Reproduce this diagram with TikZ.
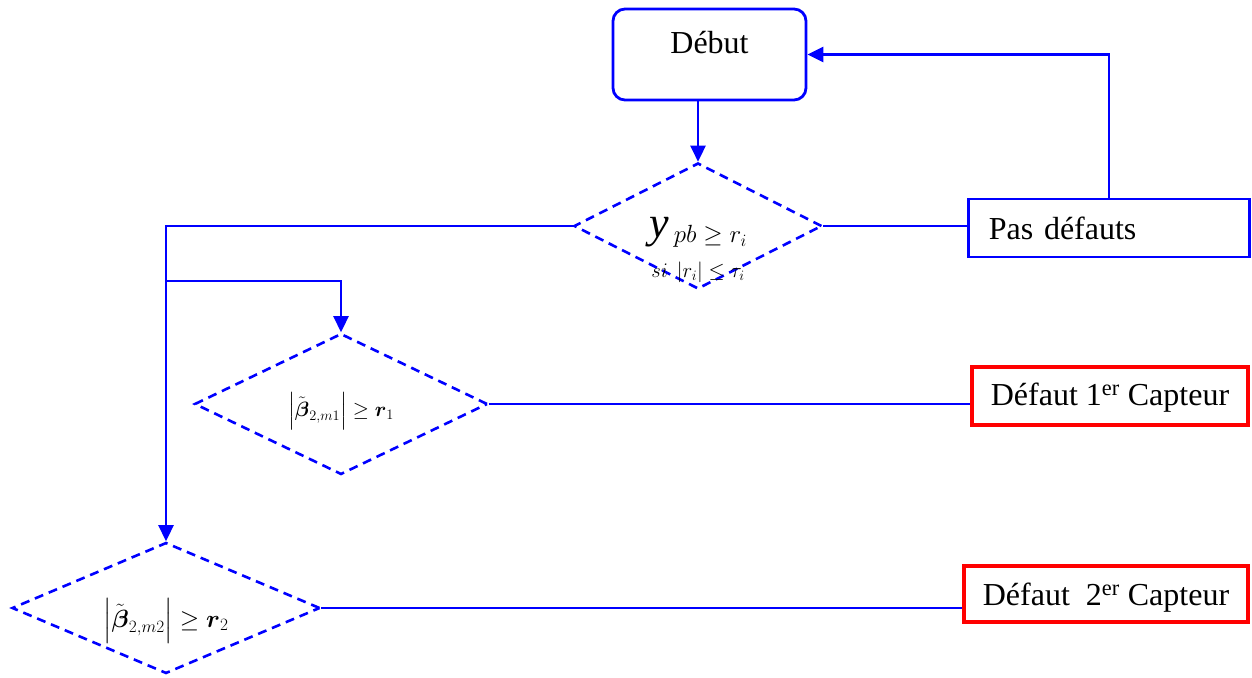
\documentclass[tikz,border=0pt]{standalone}
\usepackage{amsmath}
\usepackage{fontspec}
\setmainfont{Liberation Serif}
\usetikzlibrary{shapes.geometric,arrows.meta}

\def\flowLineWidth{2.6pt}
\def\flowTipLength{16pt}
\def\flowTipWidth{15pt}
\def\faultLineWidth{3.5pt}
\newcommand\sinkText[2]{\raisebox{-#1}[0pt][0pt]{#2}}

\tikzset{
    flowline/.style = {blue, line width = \flowLineWidth},
    flowarrow/.style = {flowline,
        -{Triangle[length = \flowTipLength, width = \flowTipWidth]}},
    startbox/.style = {draw = blue, line width = 2.8pt,
        rounded corners = 12pt, inner sep = 0pt},
    testbox/.style = {shape = diamond, aspect = 2, draw = blue,
        line width = 2.6pt, dash pattern = on 9pt off 6pt, inner sep = 0pt},
    okbox/.style = {draw = blue, line width = 2.8pt, inner ysep = 0pt},
    faultbox/.style = {draw = red, line width = \faultLineWidth, inner sep = 0pt},
}

\begin{document}
\begin{tikzpicture}[x = 1pt, y = -1pt,
    every node/.style = {font = \fontsize{32}{38}\selectfont}]
            \useasboundingbox (0,0) rectangle (1252,677);
            %% boxes
            \node [startbox, minimum width = 193pt,
            text height = 44pt, text depth = 47pt, anchor = base]
            (debut) at (709.5,53) {Début};
            \node [okbox, text width = 240pt, align = left, inner xsep = 20.5pt,
            text height = 40pt, text depth = 18pt, anchor = base west]
            (pas) at (967,239) {Pas défauts};
            \node [faultbox, minimum width = 276pt,
            text height = 38pt, text depth = 20pt, anchor = base]
            (cone) at (1110,405) {Défaut 1\textsuperscript{er} Capteur};
            \node [faultbox, minimum width = 284pt,
            text height = 39pt, text depth = 17pt, anchor = base]
            (ctwo) at (1106,605) {Défaut\ \ 2\textsuperscript{er} Capteur};
            %% tests
            \node [testbox, minimum width = 248pt, minimum height = 126pt]
            (pb) at (698,226) {\sinkText{30pt}{\begin{tabular}{@{}c@{}}
                {\fontsize{44}{48}\selectfont\itshape y}\,%
                \raisebox{-5pt}{\fontsize{24}{28}\selectfont $pb\geq r_i$} \\[2pt]
                \fontsize{22}{26}\selectfont $si\;\left|r_i\right|\leq\tau_i$
            \end{tabular}}};
            \node [testbox, minimum width = 293pt, minimum height = 141pt]
            (mone) at (341,404) {\sinkText{12pt}{\fontsize{22}{26}\selectfont
                $\left|\tilde{\boldsymbol{\beta}}_{2,m1}\right|\geq\boldsymbol{r}_1$}};
            \node [testbox, minimum width = 308pt, minimum height = 131pt]
            (mtwo) at (166,608) {\sinkText{19pt}{\fontsize{24}{28}\selectfont
                $\left|\tilde{\boldsymbol{\beta}}_{2,m2}\right|\geq\boldsymbol{r}_2$}};
            %% connectors
            \coordinate (split) at (mtwo.north |- 0,281);
            \draw [flowarrow] (pb.north |- debut.south) -- (pb.north);
            \draw [flowarrow] (pb.west) -| (mtwo.north);
            \draw [flowarrow] (split) -| (mone.north);
            \draw [flowline] (pb.east) -- (pb.east -| pas.west);
            \draw [flowline] (mone.east) -- (mone.east -| cone.west);
            \draw [flowline] (mtwo.east) -- (mtwo.east -| ctwo.west);
            \draw [flowarrow] (pas.north) |- (debut.east);
\end{tikzpicture}
\end{document}
